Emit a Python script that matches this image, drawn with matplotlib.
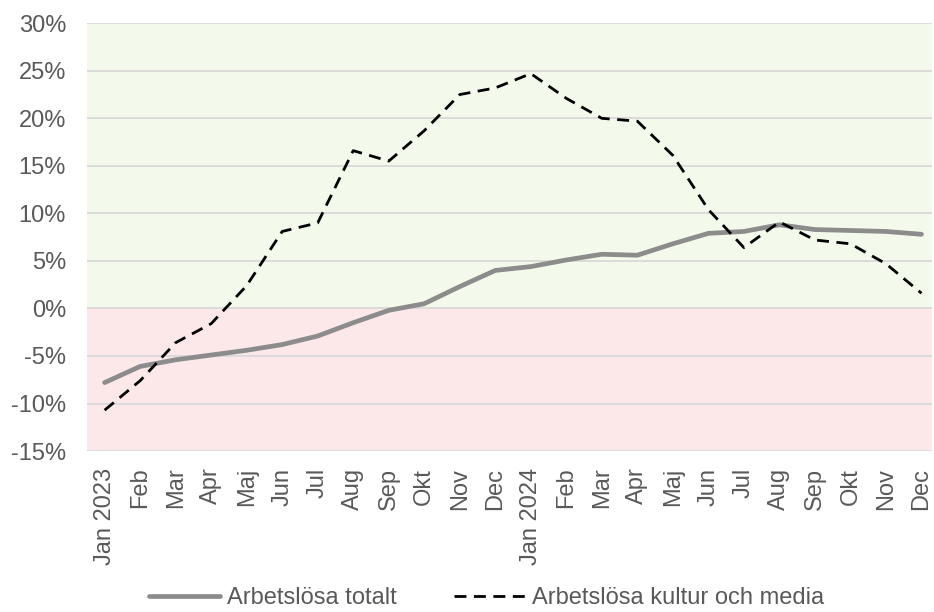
import matplotlib.pyplot as plt
from matplotlib.ticker import FuncFormatter

plt.rcParams['font.family'] = ['Liberation Sans', 'DejaVu Sans']

months = ['Jan 2023', 'Feb', 'Mar', 'Apr', 'Maj', 'Jun', 'Jul', 'Aug', 'Sep', 'Okt', 'Nov', 'Dec',
          'Jan 2024', 'Feb', 'Mar', 'Apr', 'Maj', 'Jun', 'Jul', 'Aug', 'Sep', 'Okt', 'Nov', 'Dec']

totalt = [-7.8, -6.1, -5.4, -4.9, -4.4, -3.8, -2.9, -1.5, -0.2, 0.5, 2.3, 4.0,
          4.4, 5.1, 5.7, 5.6, 6.8, 7.9, 8.1, 8.8, 8.3, 8.2, 8.1, 7.8]

kultur = [-10.7, -7.6, -3.6, -1.6, 2.4, 8.1, 9.0, 16.6, 15.5, 18.7, 22.5, 23.2,
          24.7, 22.1, 20.0, 19.7, 16.1, 10.4, 6.4, 9.1, 7.2, 6.8, 4.7, 1.6]

text_col = '#595959'

fig = plt.figure(figsize=(9.34, 6.12), dpi=100)
ax = fig.add_axes([0.093, 0.263, 0.905, 0.699])

x = list(range(len(months)))

# background bands
ax.axhspan(0, 30, color='#F3FAEB', zorder=0)
ax.axhspan(-15, 0, color='#FCE8E8', zorder=0)

for yv in range(-15, 31, 5):
    ax.axhline(yv, color='#D9D9D9', lw=1.3, zorder=1)

ax.plot(x, totalt, color='#8C8C8C', lw=3.4, solid_capstyle='round', label='Arbetslösa totalt', zorder=3)
ax.plot(x, kultur, color='black', lw=2.0, ls=(0, (4.3, 2.7)), label='Arbetslösa kultur och media', zorder=4)

ax.set_xlim(-0.5, 23.3)
ax.set_ylim(-15, 30)
ax.set_yticks(range(-15, 31, 5))
ax.yaxis.set_major_formatter(FuncFormatter(lambda v, p: f'{int(v)}%'))
ax.set_xticks(x)
ax.set_xticklabels(months, rotation=90)
ax.tick_params(length=0, labelsize=17, labelcolor=text_col)
ax.tick_params(axis='y', pad=15)
ax.tick_params(axis='x', pad=12)

for s in ax.spines.values():
    s.set_visible(False)

fig.legend(*ax.get_legend_handles_labels(), loc='center', bbox_to_anchor=(0.521, 0.023), ncol=2,
           frameon=False, fontsize=17, handlelength=3.0, columnspacing=2.4, handletextpad=0.3,
           labelcolor=text_col)

fig.savefig('out.png', dpi=100)
